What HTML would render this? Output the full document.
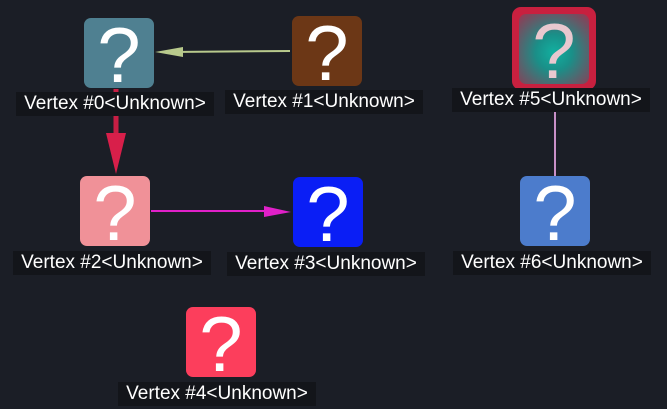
<!DOCTYPE html>
<html><head><meta charset="utf-8"><style>
html,body{margin:0;padding:0;}
body{width:667px;height:409px;background:#1b1e26;position:relative;overflow:hidden;font-family:"Liberation Sans",sans-serif;}
.n{position:absolute;width:70px;height:70px;border-radius:7px;color:#fff;text-align:center;font-size:78px;line-height:74px;overflow:hidden;}
.l{position:absolute;height:24px;line-height:24px;background:#13151a;color:#fff;font-size:19px;text-align:center;width:198px;white-space:nowrap;}
svg{position:absolute;left:0;top:0;}
</style></head><body>
<svg width="667" height="409">
<line x1="290" y1="51" x2="170" y2="52" stroke="#b8c98c" stroke-width="2"/>
<polygon points="155,52 183,47 183,57" fill="#b8c98c"/>
<line x1="116" y1="89" x2="116" y2="140" stroke="#c81e44" stroke-width="5"/>
<polygon points="116,174 106,133 126,133" fill="#d81f4a"/>
<line x1="151" y1="211" x2="270" y2="211" stroke="#e020c8" stroke-width="2"/>
<polygon points="291,212 264,206 264,217" fill="#e020c8"/>
<line x1="555" y1="92" x2="555" y2="176" stroke="#c890c8" stroke-width="2"/>
</svg>
<div class="n" style="left:84px;top:18px;background:#4f8091;">?</div>
<div class="l" style="left:16px;top:92px;">Vertex #0&lt;Unknown&gt;</div>
<div class="n" style="left:292px;top:16px;background:#6c3716;">?</div>
<div class="l" style="left:225px;top:90px;">Vertex #1&lt;Unknown&gt;</div>
<div class="n" style="left:80px;top:176px;background:#f09198;">?</div>
<div class="l" style="left:13px;top:251px;">Vertex #2&lt;Unknown&gt;</div>
<div class="n" style="left:293px;top:177px;background:#0a1ef5;">?</div>
<div class="l" style="left:227px;top:252px;">Vertex #3&lt;Unknown&gt;</div>
<div class="n" style="left:186px;top:307px;background:#fc3e5c;">?</div>
<div class="l" style="left:118px;top:382px;">Vertex #4&lt;Unknown&gt;</div>
<div style="position:absolute;left:512px;top:7px;width:84px;height:83px;border-radius:9px;background:#c8203f;"></div>
<div class="n" style="left:519px;top:14px;background:radial-gradient(circle at 50% 55%,#12b0a0 0%,#1a8f88 35%,#7a4a5e 85%,#a03450 100%);color:#e9c8cf;">?</div>
<div class="l" style="left:452px;top:88px;">Vertex #5&lt;Unknown&gt;</div>
<div class="n" style="left:520px;top:176px;background:#4c7ccc;">?</div>
<div class="l" style="left:453px;top:251px;">Vertex #6&lt;Unknown&gt;</div>
</body></html>
